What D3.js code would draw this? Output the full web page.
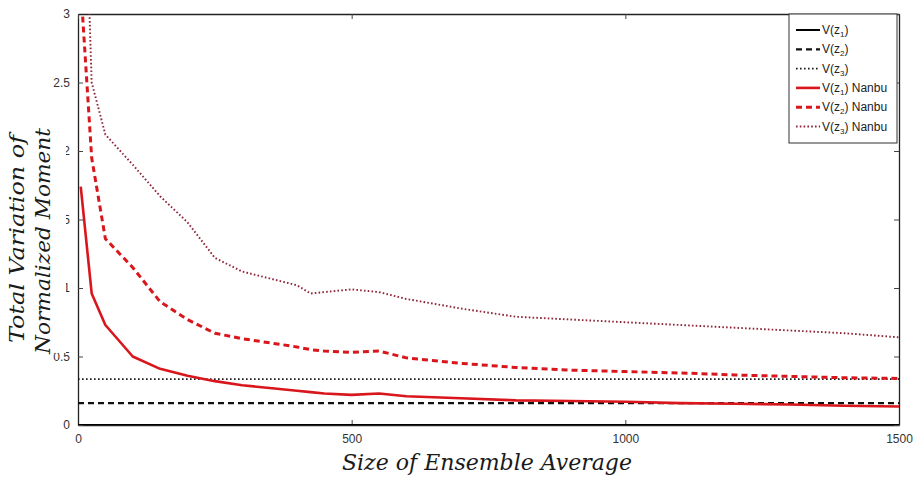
<!DOCTYPE html>
<html>
<head>
<meta charset="utf-8">
<script src="https://cdn.jsdelivr.net/npm/d3@7"></script>
<style>
  html, body { margin: 0; padding: 0; background: #fff; }
  svg { display: block; }
</style>
</head>
<body>
<svg id="chart" width="914" height="479"></svg>
<script>
// Ensemble sizes at which the Nanbu estimates were evaluated
const sizes = [5, 25, 50, 100, 150, 200, 250, 300, 350, 400, 425, 450, 500, 550, 600, 700, 800, 900, 1000, 1100, 1200, 1300, 1400, 1500];

// Total variation of normalized moments, Nanbu scheme
const z1Nanbu = [1.74, 0.96, 0.73, 0.50, 0.41, 0.36, 0.32, 0.29, 0.27, 0.25, 0.24, 0.23, 0.22, 0.23, 0.21, 0.195, 0.18, 0.175, 0.17, 0.16, 0.155, 0.15, 0.14, 0.135];
const z2Nanbu = [3.2, 1.95, 1.36, 1.15, 0.9, 0.77, 0.67, 0.63, 0.60, 0.57, 0.55, 0.54, 0.53, 0.54, 0.49, 0.45, 0.42, 0.40, 0.39, 0.38, 0.365, 0.355, 0.345, 0.34];
const z3Nanbu = [5.0, 2.5, 2.12, 1.9, 1.67, 1.48, 1.22, 1.12, 1.07, 1.02, 0.96, 0.97, 0.99, 0.97, 0.92, 0.85, 0.79, 0.77, 0.75, 0.73, 0.71, 0.69, 0.67, 0.64];

// Reference levels (constant over ensemble size)
const refSizes = [0, 1500];
const z1Ref = [0, 0];
const z2Ref = [0.16, 0.16];
const z3Ref = [0.335, 0.335];

// Axis ticks
const xTicks = [0, 500, 1000, 1500];
const yTicks = [0, 0.5, 1, 1.5, 2, 2.5, 3];

const RED = "#d8161c";
const RED_DOT = "#8e2538";

const series = [
  { label: "1", suffix: "",       xs: refSizes, ys: z1Ref,   color: "#000", width: 2,   dash: null },
  { label: "2", suffix: "",       xs: refSizes, ys: z2Ref,   color: "#111", width: 2.2, dash: "6,4" },
  { label: "3", suffix: "",       xs: refSizes, ys: z3Ref,   color: "#1a1a1a", width: 1.9, dash: "1.6,2.4" },
  { label: "1", suffix: " Nanbu", xs: sizes,    ys: z1Nanbu, color: RED,    width: 2.6, dash: null },
  { label: "2", suffix: " Nanbu", xs: sizes,    ys: z2Nanbu, color: RED,    width: 3,   dash: "6,4" },
  { label: "3", suffix: " Nanbu", xs: sizes,    ys: z3Nanbu, color: RED_DOT, width: 1.9, dash: "1.6,2.2" }
];

const svg = d3.select("#chart");
const plotL = 78, plotR = 899, plotT = 14, plotB = 425;

const x = d3.scaleLinear().domain([0, 1500]).range([plotL, plotR]);
const y = d3.scaleLinear().domain([0, 3]).range([plotB, plotT]);

svg.append("defs").append("clipPath").attr("id", "plotClip")
  .append("rect").attr("x", plotL).attr("y", plotT).attr("width", plotR - plotL).attr("height", plotB - plotT);

// Axes with inward ticks (box style)
const tickFont = "Liberation Sans, Arial, sans-serif";
svg.append("g").attr("transform", `translate(0,${plotB})`)
  .call(d3.axisBottom(x).tickValues(xTicks).tickSizeInner(-5).tickSizeOuter(0).tickPadding(9).tickFormat(d3.format("d")));
svg.append("g").attr("transform", `translate(${plotL},0)`)
  .call(d3.axisLeft(y).tickValues(yTicks).tickSizeInner(-5).tickSizeOuter(0).tickPadding(8).tickFormat(d => String(d)));
svg.append("g").attr("transform", `translate(0,${plotT})`)
  .call(d3.axisTop(x).tickValues(xTicks).tickSizeInner(-5).tickSizeOuter(0).tickFormat(""));
svg.append("g").attr("transform", `translate(${plotR},0)`)
  .call(d3.axisRight(y).tickValues(yTicks).tickSizeInner(-5).tickSizeOuter(0).tickFormat(""));

svg.selectAll(".domain").attr("stroke", "#222").attr("stroke-width", 1.3);
svg.selectAll(".tick line").attr("stroke", "#444");
svg.selectAll(".tick text").attr("font-family", tickFont).attr("font-size", 12).attr("fill", "#333");

// Series lines
const plot = svg.append("g").attr("clip-path", "url(#plotClip)");
series.forEach(s => {
  const pts = s.xs.map((v, i) => [v, s.ys[i]]);
  plot.append("path")
    .attr("d", d3.line().x(d => x(d[0])).y(d => y(d[1]))(pts))
    .attr("fill", "none")
    .attr("stroke", s.color)
    .attr("stroke-width", s.width)
    .attr("stroke-dasharray", s.dash)
    .attr("stroke-linejoin", "round");
});

// Legend
const lg = svg.append("g");
const lgX = 789, lgY = 14, lgW = 108, lgH = 129;
lg.append("rect").attr("x", lgX).attr("y", lgY).attr("width", lgW).attr("height", lgH)
  .attr("fill", "#fff").attr("stroke", "#333").attr("stroke-width", 1);
series.forEach((s, i) => {
  const cy = 30 + i * 19.3;
  lg.append("line").attr("x1", 796).attr("x2", 820).attr("y1", cy).attr("y2", cy)
    .attr("stroke", s.color).attr("stroke-width", s.width).attr("stroke-dasharray", s.dash);
  const t = lg.append("text").attr("x", 822).attr("y", cy + 4)
    .attr("font-family", tickFont).attr("font-size", 12).attr("fill", "#222");
  t.append("tspan").text("V(z");
  t.append("tspan").attr("font-size", 8).attr("dy", 3).text(s.label);
  t.append("tspan").attr("dy", -3).text(")" + s.suffix);
});

// Axis titles
const titleFont = "DejaVu Serif, serif";
const yTitle = svg.append("g");
yTitle.append("rect").attr("x", 0).attr("y", 128).attr("width", 66).attr("height", 225).attr("fill", "#fff");
yTitle.append("text")
  .attr("transform", "translate(24,239) rotate(-90)")
  .attr("text-anchor", "middle")
  .attr("font-family", titleFont).attr("font-style", "italic").attr("font-size", 21).attr("fill", "#1a1a1a")
  .attr("textLength", 208).attr("lengthAdjust", "spacingAndGlyphs")
  .text("Total Variation of");
yTitle.append("text")
  .attr("transform", "translate(50,241) rotate(-90)")
  .attr("text-anchor", "middle")
  .attr("font-family", titleFont).attr("font-style", "italic").attr("font-size", 21).attr("fill", "#1a1a1a")
  .attr("textLength", 226).attr("lengthAdjust", "spacingAndGlyphs")
  .text("Normalized Moment");

svg.append("text")
  .attr("x", 487).attr("y", 470)
  .attr("text-anchor", "middle")
  .attr("font-family", titleFont).attr("font-style", "italic").attr("font-size", 22).attr("fill", "#1a1a1a")
  .attr("textLength", 290).attr("lengthAdjust", "spacingAndGlyphs")
  .text("Size of Ensemble Average");
</script>
</body>
</html>
